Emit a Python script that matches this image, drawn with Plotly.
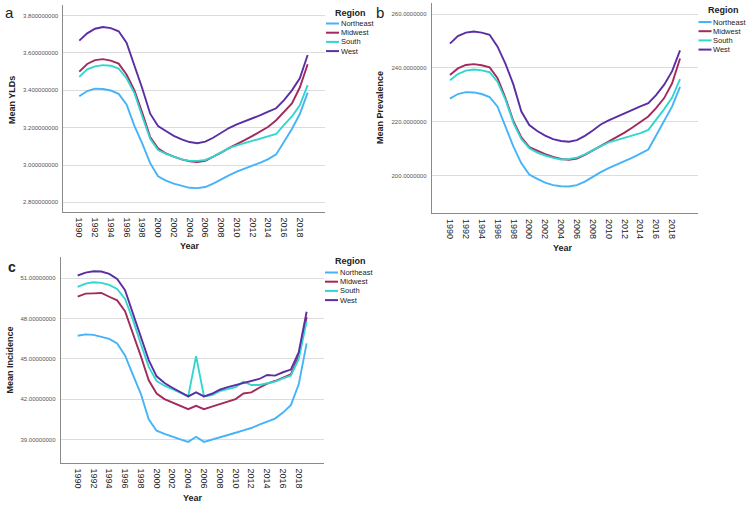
import plotly.graph_objects as go

W, H = 750, 505

years = list(range(1990, 2020))
year_ticks = list(range(1990, 2019, 2))
regions = ["Northeast", "Midwest", "South", "West"]
colors = ["#45b3f7", "#a22a5c", "#33d6cf", "#5b2fa3"]

# Panel a: Mean YLDs
yld_northeast = [3.368, 3.396, 3.409, 3.407, 3.399, 3.381, 3.325, 3.21, 3.115, 3.01, 2.94, 2.917, 2.900, 2.887, 2.878,
                 2.876, 2.882, 2.900, 2.924, 2.945, 2.965, 2.980, 2.996, 3.013, 3.032, 3.057, 3.125, 3.193, 3.273, 3.388]
yld_midwest = [3.500, 3.541, 3.562, 3.567, 3.559, 3.543, 3.485, 3.40, 3.28, 3.15, 3.09, 3.062, 3.045, 3.030, 3.020,
               3.016, 3.022, 3.043, 3.066, 3.090, 3.110, 3.133, 3.156, 3.180, 3.205, 3.240, 3.285, 3.330, 3.415, 3.540]
yld_south = [3.472, 3.512, 3.528, 3.535, 3.532, 3.516, 3.465, 3.385, 3.26, 3.14, 3.08, 3.060, 3.045, 3.030, 3.022,
             3.022, 3.027, 3.045, 3.068, 3.090, 3.105, 3.118, 3.130, 3.143, 3.156, 3.166, 3.215, 3.260, 3.320, 3.428]
yld_west = [3.666, 3.705, 3.730, 3.739, 3.733, 3.716, 3.655, 3.536, 3.41, 3.275, 3.209, 3.182, 3.156, 3.137, 3.123,
            3.117, 3.125, 3.146, 3.173, 3.198, 3.218, 3.233, 3.250, 3.267, 3.286, 3.304, 3.348, 3.400, 3.464, 3.589]
yld_ticks = [2.8, 3.0, 3.2, 3.4, 3.6, 3.8]

# Panel b: Mean Prevalence
prev_northeast = [228.6, 230.3, 231.0, 230.9, 230.3, 229.2, 225.6, 218.4, 210.8, 204.6, 200.4, 198.8, 197.4, 196.5, 196.1,
                  196.0, 196.5, 197.8, 199.6, 201.3, 202.8, 204.0, 205.3, 206.7, 208.2, 209.7, 215.0, 220.5, 225.7, 233.0]
prev_midwest = [237.4, 239.8, 241.1, 241.4, 241.0, 240.2, 236.2, 228.8, 220.2, 214.2, 210.6, 209.2, 208.0, 207.0, 206.2,
                205.9, 206.4, 207.7, 209.3, 211.0, 212.6, 214.2, 216.0, 217.9, 219.9, 222.0, 225.2, 228.8, 234.3, 243.5]
prev_south = [235.4, 237.7, 239.0, 239.4, 239.1, 238.4, 234.8, 228.2, 219.6, 213.6, 210.2, 208.6, 207.5, 206.6, 206.0,
              206.2, 206.7, 207.9, 209.5, 211.1, 212.4, 213.2, 214.0, 214.8, 215.8, 217.0, 220.8, 224.7, 229.0, 235.8]
prev_west = [249.0, 251.8, 253.1, 253.5, 253.1, 252.3, 247.9, 241.5, 233.8, 223.8, 218.8, 216.6, 214.9, 213.6, 212.9,
             212.6, 213.2, 214.8, 216.8, 219.0, 220.5, 221.9, 223.1, 224.4, 225.7, 226.9, 230.0, 233.8, 238.8, 246.5]
prev_ticks = [200, 220, 240, 260]

# Panel c: Mean Incidence
inc_northeast = [46.72, 46.82, 46.78, 46.65, 46.48, 46.15, 45.25, 43.8, 42.4, 40.5, 39.65, 39.42, 39.2, 39.0, 38.82,
                 39.2, 38.82, 38.98, 39.15, 39.32, 39.5, 39.68, 39.85, 40.1, 40.3, 40.55, 41.0, 41.55, 43.1, 46.15]
inc_midwest = [49.63, 49.85, 49.87, 49.9, 49.62, 49.35, 48.55, 46.9, 45.2, 43.4, 42.42, 42.0, 41.76, 41.51, 41.25,
               41.5, 41.25, 41.44, 41.64, 41.82, 42.0, 42.42, 42.5, 42.85, 43.15, 43.35, 43.6, 43.85, 45.2, 48.1]
inc_south = [50.35, 50.6, 50.7, 50.65, 50.5, 50.2, 49.45, 47.9, 46.1, 44.4, 43.35, 43.0, 42.75, 42.5, 42.2,
             45.2, 42.2, 42.3, 42.6, 42.75, 42.9, 43.3, 43.05, 43.05, 43.2, 43.3, 43.55, 43.75, 45.0, 47.8]
inc_west = [51.2, 51.42, 51.52, 51.5, 51.32, 50.95, 50.1, 48.4, 46.6, 44.9, 43.7, 43.2, 42.85, 42.5, 42.2,
            42.5, 42.2, 42.4, 42.7, 42.9, 43.05, 43.2, 43.35, 43.5, 43.8, 43.75, 44.0, 44.2, 45.5, 48.5]
inc_ticks = [39, 42, 45, 48, 51]

FONT = "Liberation Sans, Arial, sans-serif"


def px(x):
    return x / W


def py(y):
    return 1 - y / H


fig = go.Figure()

panel_series = [
    ("x", "y", [yld_northeast, yld_midwest, yld_south, yld_west]),
    ("x2", "y2", [prev_northeast, prev_midwest, prev_south, prev_west]),
    ("x3", "y3", [inc_northeast, inc_midwest, inc_south, inc_west]),
]
for xa, ya, series in panel_series:
    for name, col, vals in zip(regions, colors, series):
        fig.add_trace(go.Scatter(x=years, y=vals, mode="lines", name=name,
                                 line=dict(color=col, width=1.9),
                                 xaxis=xa, yaxis=ya, showlegend=False))

xcommon = dict(tickvals=year_ticks, tickangle=90, showgrid=False, showline=True,
               linecolor="#8a8a8a", linewidth=1, ticks="", zeroline=False,
               tickfont=dict(family=FONT, size=9, color="#222222"), ticklabelstandoff=3)
ycommon = dict(showgrid=True, gridcolor="#dcdcdc", gridwidth=1, showline=True,
               linecolor="#8a8a8a", linewidth=1, ticks="", zeroline=False,
               tickfont=dict(family=FONT, size=6, color="#555555"), ticklabelstandoff=3)

fig.update_layout(
    width=W, height=H, margin=dict(l=0, r=0, t=0, b=0),
    paper_bgcolor="white", plot_bgcolor="white",
    showlegend=False,
    xaxis=dict(domain=[px(63.3), px(325)], anchor="y", range=[1987.97, 2021.2], **xcommon),
    yaxis=dict(domain=[py(211.7), py(5)], anchor="x", range=[2.75, 3.857],
               tickvals=yld_ticks, tickformat=".9f", **ycommon),
    xaxis2=dict(domain=[px(431.7), px(698.3)], anchor="y2", range=[1987.7, 2021.3], **xcommon),
    yaxis2=dict(domain=[py(213.3), py(3.3)], anchor="x2", range=[186.05, 263.97],
                tickvals=prev_ticks, tickformat=".7f", **ycommon),
    xaxis3=dict(domain=[px(60.7), px(324)], anchor="y3", range=[1987.85, 2021.2], **xcommon),
    yaxis3=dict(domain=[py(462.7), py(256.7)], anchor="x3", range=[37.27, 52.6],
                tickvals=inc_ticks, tickformat=".8f", **ycommon),
)

annotations = []
shapes = []


def text(x, y, s, size, bold=False, angle=0, xanchor="center", color="#222222"):
    annotations.append(dict(x=px(x), y=py(y), xref="paper", yref="paper", text=("<b>%s</b>" % s) if bold else s,
                            showarrow=False, textangle=angle, xanchor=xanchor, yanchor="middle",
                            borderpad=0, font=dict(family=FONT, size=size, color=color)))


# panel letters
text(9, 12, "a", 15)
text(380, 12, "b", 15)
text(12, 267, "c", 14, bold=True)

# axis titles
text(12, 100, "Mean YLDs", 9, bold=True, angle=-90)
text(380, 108, "Mean Prevalence", 9, bold=True, angle=-90)
text(9.5, 360, "Mean Incidence", 9, bold=True, angle=-90)
text(190, 246, "Year", 9, bold=True)
text(563, 248, "Year", 9, bold=True)
text(193, 498, "Year", 9, bold=True)


def legend(x_line, y_title, x_title, y0):
    text(x_title, y_title, "Region", 9, bold=True, xanchor="left")
    for k, (name, col) in enumerate(zip(regions, colors)):
        yy = y0 + 9.2 * k
        shapes.append(dict(type="line", xref="paper", yref="paper",
                           x0=px(x_line), x1=px(x_line + 13), y0=py(yy), y1=py(yy),
                           line=dict(color=col, width=2)))
        text(x_line + 13.5, yy, name, 7.5, xanchor="left")


legend(326, 12.5, 334, 23.5)
legend(698.5, 10.2, 707, 22)
legend(325, 261.2, 334, 272.5)

fig.update_layout(annotations=annotations, shapes=shapes)

fig.write_html("out.html")
